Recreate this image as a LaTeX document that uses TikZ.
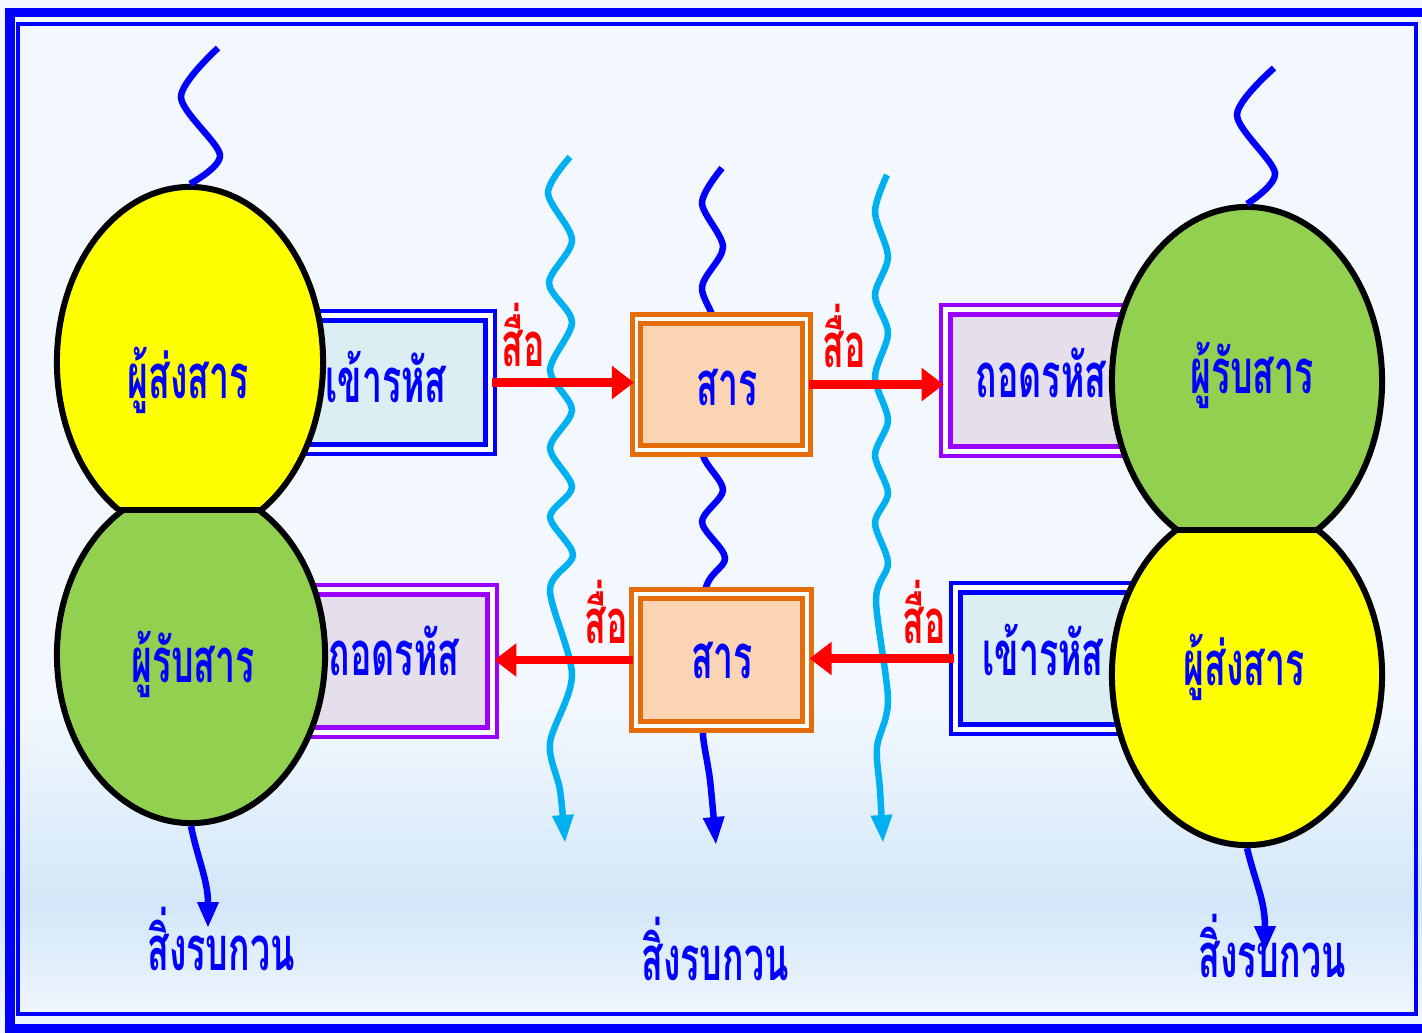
\documentclass[tikz,border=0pt]{standalone}
\usepackage{fontspec}
\newfontfamily\thaifont[Script=Thai,FakeStretch=0.58]{Loma}
\usepackage{tikz}
\usetikzlibrary{shapes,arrows.meta}
\usetikzlibrary{positioning}
\definecolor{wavecyan}{HTML}{00B0F0}
\definecolor{boxorange}{HTML}{E46C0A}
\definecolor{msgfill}{HTML}{FBD4B4}
\definecolor{encfill}{HTML}{DAEEF3}
\definecolor{decfill}{HTML}{E5DFEC}
\definecolor{decpurple}{HTML}{9900FF}
\definecolor{eggyellow}{HTML}{FFFF00}
\definecolor{egggreen}{HTML}{92D050}
\definecolor{bgtop}{HTML}{F3F8FE}
\definecolor{bgband}{HTML}{D3E7F8}
\tikzstyle{egg} = [draw=black, ellipse, line width=0.06cm, inner sep=0pt]
\tikzstyle{txt} = [font=\thaifont\bfseries\fontsize{17.5}{20}\selectfont, text=blue,
    anchor=base, inner sep=0pt]
\tikzstyle{media} = [txt, text=red]
\tikzstyle{enc} = [draw=blue, double=white, double distance=0.05cm, line width=0.045cm,
    fill=encfill, rectangle, inner sep=0pt]
\tikzstyle{dec} = [enc, draw=decpurple, fill=decfill]
\tikzstyle{msg} = [draw=boxorange, double=white, double distance=0.035cm, line width=0.05cm,
    fill=msgfill, rectangle, inner sep=0pt]
\tikzstyle{flow} = [red, line width=0.085cm, -{Triangle[length=0.22cm,width=0.32cm]}]
\tikzstyle{noise} = [blue, line width=0.065cm]

\begin{document}
\begin{tikzpicture}[x=0.01cm, y=-0.01cm]
    \useasboundingbox (0,0) rectangle (1422,1032);
    % background and frame
    \fill[bgtop] (0,0) rectangle (1422,1032);
    \shade[top color=bgtop, bottom color=bgband] (0,700) rectangle (1422,905);
    \shade[top color=bgband, bottom color=bgtop] (0,905) rectangle (1422,1032);
    \draw[blue, line width=0.09cm] (10,12) rectangle (1432,1028);
    \draw[blue, line width=0.04cm] (18,24) rectangle (1416,1014);

    % noise in the channel
    \draw[noise, wavecyan, -{Triangle[length=0.28cm,width=0.2cm]}] plot[smooth] coordinates {(570,157) (548,193) (572,240) (549,283) (572,322) (550,370) (572,410) (550,448) (572,487) (550,517) (573,555) (550,590) (572,675) (550,743) (560,790) (565,843)};
    \draw[noise, -{Triangle[length=0.28cm,width=0.2cm]}] plot[smooth] coordinates {(722,168) (702,203) (723,247) (702,287) (716,330) (712,420) (703,455) (723,490) (702,522) (725,558) (705,592) (705,700) (703,735) (710,780) (716,845)};
    \draw[noise, wavecyan, -{Triangle[length=0.28cm,width=0.2cm]}] plot[smooth] coordinates {(887,175) (875,212) (888,257) (875,295) (888,333) (875,377) (888,420) (875,455) (888,493) (875,523) (888,563) (876,600) (888,700) (877,747) (880,790) (883,843)};

    \node[enc, minimum width=2.05cm, minimum height=1.33cm] (encL) at (387.5,382.5) {};
    \node[dec, minimum width=2.07cm, minimum height=1.42cm] (decL) at (388.5,661) {};
    \node[dec, minimum width=2.04cm, minimum height=1.41cm] (decR) at (1048,380.5) {};
    \node[enc, minimum width=1.94cm, minimum height=1.41cm] (encR) at (1053,658.5) {};
    \node[msg, minimum width=1.70cm, minimum height=1.31cm] (msgT) at (721.5,384.5) {};
    \node[msg, minimum width=1.71cm, minimum height=1.32cm] (msgB) at (721.5,660) {};

    \node[txt] (encLtext) at (386,402) {เข้ารหัส};
    \node[txt] (decLtext) at (394,675) {ถอดรหัส};
    \node[txt] (decRtext) at (1041,397) {ถอดรหัส};
    \node[txt] (encRtext) at (1043,675) {เข้ารหัส};
    \node[txt] (msgTtext) at (727,405) {สาร};
    \node[txt] (msgBtext) at (722,678) {สาร};

    % sender / receiver
    \begin{scope}
        \clip (0,0) rectangle (700,510);
        \node[egg, fill=eggyellow, minimum width=2.66cm, minimum height=3.5cm] (eggTL) at (190,362) {};
    \end{scope}
    \begin{scope}
        \clip (0,510) rectangle (700,1032);
        \node[egg, fill=egggreen, minimum width=2.68cm, minimum height=3.36cm] (eggBL) at (191,655) {};
    \end{scope}
    \begin{scope}
        \clip (800,0) rectangle (1422,530);
        \node[egg, fill=egggreen, minimum width=2.70cm, minimum height=3.48cm] (eggTR) at (1247,381) {};
    \end{scope}
    \begin{scope}
        \clip (800,530) rectangle (1422,1032);
        \node[egg, fill=eggyellow, minimum width=2.70cm, minimum height=3.40cm] (eggBR) at (1247,675) {};
    \end{scope}
    \draw[line width=0.06cm] (119,510) -- (261,510);
    \draw[line width=0.06cm] (1177,530) -- (1317,530);

    \node[txt] (sendL) at (188,398) {ผู้ส่งสาร};
    \node[txt] (recvL) at (193,682) {ผู้รับสาร};
    \node[txt] (recvR) at (1252,393) {ผู้รับสาร};
    \node[txt] (sendR) at (1244,685) {ผู้ส่งสาร};

    \draw[noise] plot[smooth] coordinates {(218,48) (181,97) (220,155) (eggTL.north)};
    \draw[noise] plot[smooth] coordinates {(1274,68) (1237,115) (1275,173) (eggTR.north)};

    % channel arrows
    \draw[flow] (encL.east) -- (encL.east -| msgT.west);
    \draw[flow] (msgT.east) -- (msgT.east -| decR.west);
    \draw[flow] (msgB.west) -- (msgB.west -| decL.east);
    \draw[flow] (encR.west) -- (encR.west -| msgB.east);
    \node[media] (mediaTL) at (523,366) {สื่อ};
    \node[media] (mediaTR) at (844,367) {สื่อ};
    \node[media] (mediaBL) at (606,643) {สื่อ};
    \node[media] (mediaBR) at (924,643) {สื่อ};

    % noise at both ends
    \coordinate (tipL) at (208,928);
    \coordinate (tipR) at (1265,952);
    \draw[noise, -{Triangle[length=0.26cm,width=0.2cm]}] (eggBL.south) .. controls (198,860) and (208,880) .. (tipL);
    \draw[noise, -{Triangle[length=0.26cm,width=0.2cm]}] (eggBR.south) .. controls (1256,885) and (1265,900) .. (tipR);
    \node[txt] (noiseL) at (221,970) {สิ่งรบกวน};
    \node[txt] (noiseM) at (715,980) {สิ่งรบกวน};
    \node[txt] (noiseR) at (1272,977) {สิ่งรบกวน};
\end{tikzpicture}
\end{document}
